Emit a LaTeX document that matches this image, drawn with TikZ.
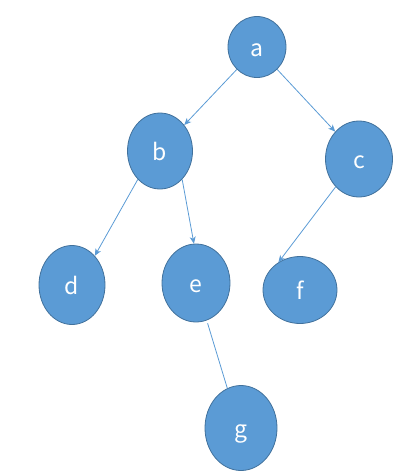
\documentclass[tikz,border=0pt]{standalone}
\usepackage{fontspec}
\newfontfamily\nodefont{Noto Sans CJK SC}
\usetikzlibrary{shapes.geometric,arrows.meta}
\definecolor{nodefill}{HTML}{5B9BD5}
\definecolor{nodeborder}{HTML}{41719C}
\definecolor{edgecol}{HTML}{5B9BD5}
\tikzset{
  treenode/.style={ellipse, draw=nodeborder, fill=nodefill, line width=0.8pt,
    inner sep=0pt, text=white, text height=18pt, text depth=0pt,
    font=\nodefont\fontsize{23}{23}\selectfont},
  treeedge/.style={draw=edgecol, line width=0.8pt,
    -{Stealth[length=7pt,width=6pt,inset=2pt]}},
  plainedge/.style={draw=edgecol, line width=0.8pt}
}
\begin{document}
\begin{tikzpicture}[x=1pt,y=-1pt]
\useasboundingbox (0,0) rectangle (417,475);
\node[treenode, minimum width=58pt, minimum height=61pt] (a) at (257,47) {a};
\node[treenode, minimum width=65pt, minimum height=76pt] (b) at (160,151) {b};
\node[treenode, minimum width=67pt, minimum height=76pt] (c) at (359,159) {c};
\node[treenode, minimum width=66pt, minimum height=79pt] (d) at (72,285) {d};
\node[treenode, minimum width=68pt, minimum height=78pt] (e) at (196,283) {e};
\node[treenode, minimum width=74pt, minimum height=67pt] (f) at (300,290) {f};
\node[treenode, minimum width=72pt, minimum height=85pt] (g) at (241,428) {g};
\draw[treeedge] (a.228) -- (b.47);
\draw[treeedge] (a.312) -- (c.131);
\draw[treeedge] (b.232) -- (d.52);
\draw[treeedge] (b.308) -- (e.93);
\draw[treeedge] (c.230) -- (f.128);
\draw[plainedge, shorten <=3pt] (e.286) -- (g.109);
\end{tikzpicture}
\end{document}
